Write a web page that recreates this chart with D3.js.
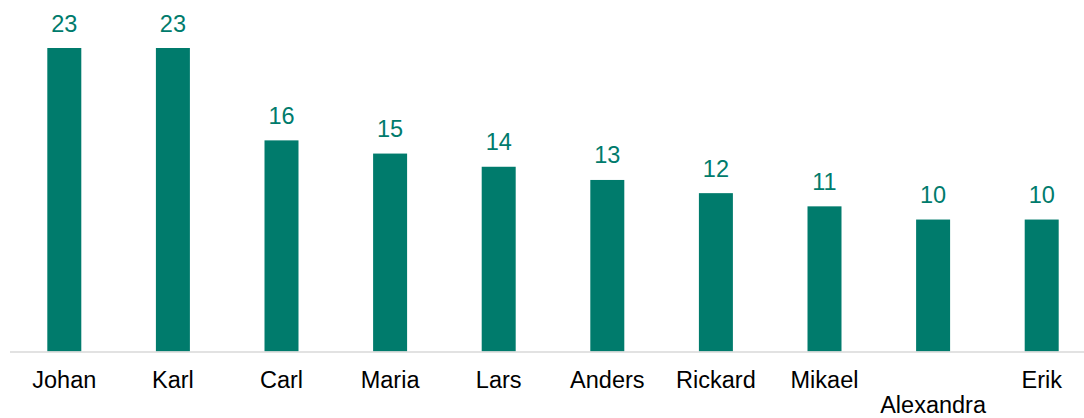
<!DOCTYPE html>
<html>
<head>
<meta charset="utf-8">
<script src="https://cdn.jsdelivr.net/npm/d3@7"></script>
<style>
  html, body { margin: 0; padding: 0; background: #fff; }
  svg { display: block; }
</style>
</head>
<body>
<svg id="chart" width="1084" height="418"></svg>
<script>
const names = ["Johan", "Karl", "Carl", "Maria", "Lars", "Anders", "Rickard", "Mikael", "Alexandra", "Erik"];
const counts = [23, 23, 16, 15, 14, 13, 12, 11, 10, 10];
// labels pushed down to a second line
const secondLine = ["Alexandra"];

const W = 1084, H = 418;
const teal = "#007B6C";
const font = "Liberation Sans, Arial, sans-serif";

const svg = d3.select("#chart");
const baseY = 351.5;

const x = d3.scaleBand()
  .domain(names)
  .range([10, 1096])
  .paddingInner(0.687)
  .paddingOuter(0.3435);

const y = d3.scaleLinear()
  .domain([0, 23])
  .range([baseY, 48]);

// bars
svg.append("g").selectAll("rect")
  .data(names.map((n, i) => ({ name: n, value: counts[i] })))
  .join("rect")
  .attr("x", d => x(d.name))
  .attr("width", x.bandwidth())
  .attr("y", d => y(d.value))
  .attr("height", d => baseY - y(d.value))
  .attr("fill", teal);

// value labels
svg.append("g").selectAll("text")
  .data(names.map((n, i) => ({ name: n, value: counts[i] })))
  .join("text")
  .attr("x", d => x(d.name) + x.bandwidth() / 2)
  .attr("y", d => y(d.value) - 16.5)
  .attr("text-anchor", "middle")
  .attr("font-family", font)
  .attr("font-size", "23.5px")
  .attr("fill", teal)
  .text(d => d.value);

// category axis
const axis = svg.append("g")
  .attr("transform", `translate(0,${baseY})`)
  .call(d3.axisBottom(x).tickSize(0).tickPadding(0));
axis.select(".domain")
  .attr("d", `M10,0.5H${W}`)
  .attr("stroke", "#d9d9d9")
  .attr("stroke-width", 1.5);
axis.selectAll(".tick text")
  .attr("font-family", font)
  .attr("font-size", "23.5px")
  .attr("fill", "#000")
  .attr("dy", null)
  .attr("y", d => secondLine.includes(d) ? 61.5 : 36.5);
</script>
</body>
</html>
